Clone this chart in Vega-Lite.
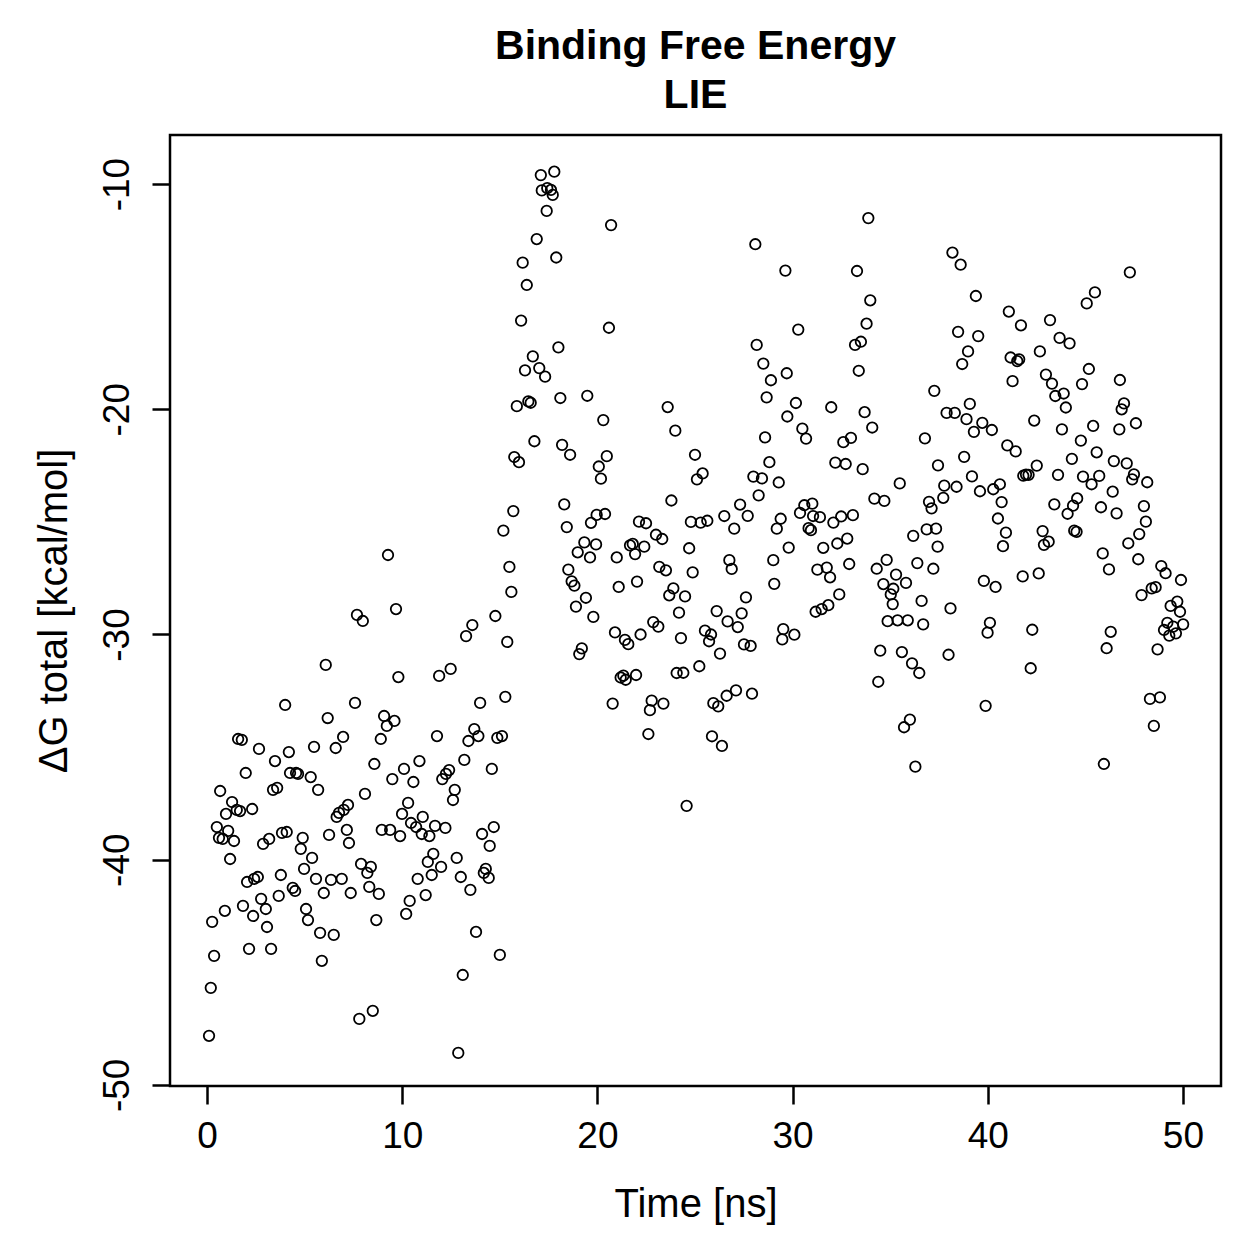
{
  "$schema": "https://vega.github.io/schema/vega-lite/v6.json",
  "width": 1051,
  "height": 951,
  "autosize": {"type": "none"},
  "padding": {"left": 170, "top": 135, "right": 38, "bottom": 173},
  "background": "white",
  "config": {
    "font": "Liberation Sans",
    "view": {"stroke": "black", "strokeWidth": 2.5},
    "axis": {"grid": false, "domain": false, "tickColor": "black", "tickWidth": 2.5, "tickSize": 18, "labelColor": "black", "titleColor": "black", "labelFont": "Liberation Sans", "titleFont": "Liberation Sans", "labelFontWeight": "normal", "titleFontWeight": "normal"}
  },
  "title": {
    "text": ["Binding Free Energy", "LIE"],
    "fontSize": 41,
    "fontWeight": "bold",
    "font": "Liberation Sans",
    "color": "black",
    "anchor": "middle",
    "lineHeight": 49,
    "offset": 18
  },
  "data": {
    "values": [
      {"t":0.10,"g":-47.82},{"t":0.19,"g":-45.69},{"t":0.26,"g":-42.76},{"t":0.36,"g":-44.27},{"t":0.50,"g":-38.55},
      {"t":0.61,"g":-39.03},{"t":0.67,"g":-36.95},{"t":0.80,"g":-39.08},{"t":0.91,"g":-42.27},{"t":0.97,"g":-37.97},
      {"t":1.08,"g":-38.72},{"t":1.18,"g":-39.97},{"t":1.28,"g":-37.44},{"t":1.38,"g":-39.17},{"t":1.52,"g":-37.79},
      {"t":1.59,"g":-34.64},{"t":1.69,"g":-37.84},{"t":1.78,"g":-34.68},{"t":1.84,"g":-42.05},{"t":1.98,"g":-36.15},
      {"t":2.05,"g":-40.99},{"t":2.15,"g":-43.96},{"t":2.31,"g":-37.75},{"t":2.36,"g":-42.50},{"t":2.41,"g":-40.85},
      {"t":2.60,"g":-40.77},{"t":2.66,"g":-35.08},{"t":2.77,"g":-41.74},{"t":2.87,"g":-39.30},{"t":3.01,"g":-42.19},
      {"t":3.07,"g":-42.99},{"t":3.18,"g":-39.08},{"t":3.28,"g":-43.96},{"t":3.38,"g":-36.90},{"t":3.48,"g":-35.62},
      {"t":3.59,"g":-36.81},{"t":3.67,"g":-41.61},{"t":3.78,"g":-40.68},{"t":3.84,"g":-38.81},{"t":4.00,"g":-33.13},
      {"t":4.08,"g":-38.77},{"t":4.19,"g":-35.22},{"t":4.25,"g":-36.15},{"t":4.39,"g":-41.25},{"t":4.51,"g":-41.39},
      {"t":4.56,"g":-36.15},{"t":4.66,"g":-36.19},{"t":4.80,"g":-39.52},{"t":4.90,"g":-39.03},{"t":4.97,"g":-40.41},
      {"t":5.07,"g":-42.19},{"t":5.17,"g":-42.68},{"t":5.31,"g":-36.33},{"t":5.38,"g":-39.92},{"t":5.48,"g":-34.99},
      {"t":5.58,"g":-40.85},{"t":5.69,"g":-36.90},{"t":5.79,"g":-43.25},{"t":5.88,"g":-44.49},{"t":5.98,"g":-41.48},
      {"t":6.08,"g":-31.35},{"t":6.18,"g":-33.71},{"t":6.25,"g":-38.90},{"t":6.35,"g":-40.90},{"t":6.49,"g":-43.34},
      {"t":6.59,"g":-35.04},{"t":6.64,"g":-38.10},{"t":6.76,"g":-37.92},{"t":6.90,"g":-40.85},{"t":6.97,"g":-34.55},
      {"t":7.00,"g":-37.79},{"t":7.16,"g":-38.68},{"t":7.22,"g":-37.57},{"t":7.27,"g":-39.26},{"t":7.36,"g":-41.48},
      {"t":7.58,"g":-33.04},{"t":7.68,"g":-29.13},{"t":7.80,"g":-47.07},{"t":7.89,"g":-40.19},{"t":7.98,"g":-29.40},
      {"t":8.09,"g":-37.08},{"t":8.21,"g":-40.59},{"t":8.31,"g":-41.21},{"t":8.39,"g":-40.32},{"t":8.49,"g":-46.71},
      {"t":8.57,"g":-35.75},{"t":8.67,"g":-42.68},{"t":8.80,"g":-41.52},{"t":8.90,"g":-34.64},{"t":8.95,"g":-38.68},
      {"t":9.07,"g":-33.62},{"t":9.21,"g":-34.06},{"t":9.27,"g":-26.47},{"t":9.38,"g":-38.68},{"t":9.49,"g":-36.42},
      {"t":9.60,"g":-33.84},{"t":9.68,"g":-28.87},{"t":9.80,"g":-31.89},{"t":9.89,"g":-38.95},{"t":9.99,"g":-37.97},
      {"t":10.09,"g":-35.97},{"t":10.20,"g":-42.41},{"t":10.30,"g":-37.48},{"t":10.38,"g":-41.83},{"t":10.45,"g":-38.37},
      {"t":10.57,"g":-36.55},{"t":10.71,"g":-38.55},{"t":10.79,"g":-40.85},{"t":10.88,"g":-35.62},{"t":11.00,"g":-38.86},
      {"t":11.05,"g":-38.10},{"t":11.20,"g":-41.57},{"t":11.31,"g":-40.10},{"t":11.39,"g":-38.95},{"t":11.51,"g":-40.68},
      {"t":11.59,"g":-39.74},{"t":11.68,"g":-38.50},{"t":11.78,"g":-34.51},{"t":11.89,"g":-31.84},{"t":11.99,"g":-40.32},
      {"t":12.05,"g":-36.42},{"t":12.21,"g":-38.59},{"t":12.24,"g":-36.19},{"t":12.40,"g":-36.02},{"t":12.48,"g":-31.53},
      {"t":12.60,"g":-37.35},{"t":12.69,"g":-36.90},{"t":12.79,"g":-39.92},{"t":12.87,"g":-48.58},{"t":13.00,"g":-40.77},
      {"t":13.10,"g":-45.12},{"t":13.18,"g":-35.57},{"t":13.27,"g":-30.07},{"t":13.39,"g":-34.73},{"t":13.49,"g":-41.34},
      {"t":13.59,"g":-29.58},{"t":13.69,"g":-34.20},{"t":13.78,"g":-43.21},{"t":13.90,"g":-34.51},{"t":13.99,"g":-33.04},
      {"t":14.09,"g":-38.86},{"t":14.18,"g":-40.59},{"t":14.28,"g":-40.41},{"t":14.43,"g":-40.81},{"t":14.48,"g":-39.39},
      {"t":14.59,"g":-35.97},{"t":14.69,"g":-38.55},{"t":14.77,"g":-29.18},{"t":14.87,"g":-34.59},{"t":15.00,"g":-44.23},
      {"t":15.11,"g":-34.51},{"t":15.18,"g":-25.39},{"t":15.28,"g":-32.77},{"t":15.38,"g":-30.33},{"t":15.49,"g":-27.00},
      {"t":15.59,"g":-28.11},{"t":15.69,"g":-24.52},{"t":15.74,"g":-22.12},{"t":15.87,"g":-19.86},{"t":15.98,"g":-22.35},
      {"t":16.09,"g":-16.06},{"t":16.17,"g":-13.49},{"t":16.29,"g":-18.27},{"t":16.38,"g":-14.48},{"t":16.46,"g":-19.65},
      {"t":16.58,"g":-19.71},{"t":16.69,"g":-17.65},{"t":16.77,"g":-21.42},{"t":16.89,"g":-12.44},{"t":17.02,"g":-18.17},
      {"t":17.10,"g":-9.60},{"t":17.15,"g":-10.28},{"t":17.32,"g":-18.55},{"t":17.40,"g":-11.19},{"t":17.43,"g":-10.18},
      {"t":17.62,"g":-10.26},{"t":17.71,"g":-10.48},{"t":17.79,"g":-9.45},{"t":17.89,"g":-13.26},{"t":18.00,"g":-17.25},
      {"t":18.10,"g":-19.50},{"t":18.19,"g":-21.58},{"t":18.30,"g":-24.22},{"t":18.43,"g":-25.23},{"t":18.51,"g":-27.12},
      {"t":18.60,"g":-22.02},{"t":18.68,"g":-27.64},{"t":18.82,"g":-27.83},{"t":18.90,"g":-28.76},{"t":18.99,"g":-26.35},
      {"t":19.07,"g":-30.87},{"t":19.20,"g":-30.62},{"t":19.33,"g":-25.91},{"t":19.41,"g":-28.37},{"t":19.48,"g":-19.40},
      {"t":19.62,"g":-26.58},{"t":19.67,"g":-25.04},{"t":19.79,"g":-29.22},{"t":19.93,"g":-26.00},{"t":19.96,"g":-24.69},
      {"t":20.07,"g":-22.54},{"t":20.18,"g":-23.08},{"t":20.30,"g":-20.48},{"t":20.39,"g":-24.65},{"t":20.48,"g":-22.08},
      {"t":20.59,"g":-16.38},{"t":20.70,"g":-11.82},{"t":20.78,"g":-33.07},{"t":20.90,"g":-29.91},{"t":20.99,"g":-26.58},
      {"t":21.09,"g":-27.89},{"t":21.19,"g":-31.91},{"t":21.33,"g":-31.83},{"t":21.41,"g":-30.24},{"t":21.45,"g":-32.01},
      {"t":21.58,"g":-30.43},{"t":21.67,"g":-26.04},{"t":21.81,"g":-25.98},{"t":21.93,"g":-26.43},{"t":21.98,"g":-31.80},
      {"t":22.03,"g":-27.65},{"t":22.13,"g":-24.99},{"t":22.21,"g":-30.00},{"t":22.40,"g":-26.10},{"t":22.49,"g":-25.06},
      {"t":22.61,"g":-34.42},{"t":22.69,"g":-33.36},{"t":22.78,"g":-32.94},{"t":22.86,"g":-29.45},{"t":23.00,"g":-25.57},
      {"t":23.12,"g":-29.65},{"t":23.17,"g":-27.00},{"t":23.32,"g":-25.76},{"t":23.38,"g":-33.07},{"t":23.51,"g":-27.15},
      {"t":23.60,"g":-19.90},{"t":23.68,"g":-28.26},{"t":23.79,"g":-24.05},{"t":23.89,"g":-27.95},{"t":23.99,"g":-20.95},
      {"t":24.06,"g":-31.71},{"t":24.18,"g":-29.03},{"t":24.28,"g":-30.16},{"t":24.40,"g":-31.70},{"t":24.49,"g":-28.31},
      {"t":24.57,"g":-37.61},{"t":24.70,"g":-26.17},{"t":24.79,"g":-25.00},{"t":24.88,"g":-27.24},{"t":25.00,"g":-22.02},
      {"t":25.10,"g":-23.11},{"t":25.22,"g":-31.41},{"t":25.29,"g":-25.03},{"t":25.39,"g":-22.85},{"t":25.51,"g":-29.83},
      {"t":25.63,"g":-24.95},{"t":25.72,"g":-30.30},{"t":25.82,"g":-30.00},{"t":25.87,"g":-34.52},{"t":25.94,"g":-33.05},
      {"t":26.11,"g":-28.96},{"t":26.19,"g":-33.19},{"t":26.28,"g":-30.85},{"t":26.38,"g":-34.95},{"t":26.50,"g":-24.74},
      {"t":26.62,"g":-32.72},{"t":26.67,"g":-29.42},{"t":26.76,"g":-26.70},{"t":26.88,"g":-27.09},{"t":27.01,"g":-25.30},
      {"t":27.10,"g":-32.48},{"t":27.19,"g":-29.67},{"t":27.31,"g":-24.23},{"t":27.39,"g":-29.06},{"t":27.51,"g":-30.44},
      {"t":27.61,"g":-28.35},{"t":27.70,"g":-24.73},{"t":27.85,"g":-30.51},{"t":27.92,"g":-32.63},{"t":27.99,"g":-22.99},
      {"t":28.09,"g":-12.67},{"t":28.16,"g":-17.14},{"t":28.26,"g":-23.82},{"t":28.43,"g":-23.07},{"t":28.50,"g":-17.97},
      {"t":28.59,"g":-21.25},{"t":28.67,"g":-19.47},{"t":28.81,"g":-22.35},{"t":28.89,"g":-18.71},{"t":29.01,"g":-26.70},
      {"t":29.06,"g":-27.75},{"t":29.19,"g":-25.30},{"t":29.29,"g":-23.25},{"t":29.39,"g":-24.86},{"t":29.47,"g":-30.22},
      {"t":29.52,"g":-29.76},{"t":29.63,"g":-13.84},{"t":29.70,"g":-18.40},{"t":29.73,"g":-20.32},{"t":29.80,"g":-26.14},
      {"t":30.09,"g":-30.01},{"t":30.17,"g":-19.72},{"t":30.29,"g":-16.46},{"t":30.38,"g":-24.60},{"t":30.50,"g":-20.86},
      {"t":30.60,"g":-24.26},{"t":30.69,"g":-21.30},{"t":30.82,"g":-25.28},{"t":30.94,"g":-25.37},{"t":31.01,"g":-24.19},
      {"t":31.05,"g":-24.74},{"t":31.18,"g":-28.99},{"t":31.27,"g":-27.12},{"t":31.40,"g":-24.79},{"t":31.49,"g":-28.87},
      {"t":31.57,"g":-26.15},{"t":31.75,"g":-27.03},{"t":31.83,"g":-28.70},{"t":31.92,"g":-27.46},{"t":31.98,"g":-19.91},
      {"t":32.09,"g":-25.03},{"t":32.19,"g":-22.37},{"t":32.29,"g":-25.96},{"t":32.39,"g":-28.22},{"t":32.49,"g":-24.76},
      {"t":32.60,"g":-21.46},{"t":32.72,"g":-22.43},{"t":32.80,"g":-25.74},{"t":32.90,"g":-26.87},{"t":32.99,"g":-21.27},
      {"t":33.09,"g":-24.70},{"t":33.20,"g":-17.14},{"t":33.30,"g":-13.86},{"t":33.39,"g":-18.29},{"t":33.50,"g":-17.00},
      {"t":33.59,"g":-22.66},{"t":33.69,"g":-20.13},{"t":33.79,"g":-16.20},{"t":33.88,"g":-11.51},{"t":33.98,"g":-15.16},
      {"t":34.08,"g":-20.81},{"t":34.19,"g":-23.97},{"t":34.31,"g":-27.08},{"t":34.39,"g":-32.10},{"t":34.49,"g":-30.72},
      {"t":34.65,"g":-27.76},{"t":34.70,"g":-24.07},{"t":34.82,"g":-26.69},{"t":34.87,"g":-29.41},{"t":35.03,"g":-28.22},
      {"t":35.13,"g":-28.65},{"t":35.16,"g":-27.97},{"t":35.30,"g":-27.34},{"t":35.38,"g":-29.37},{"t":35.49,"g":-23.29},
      {"t":35.60,"g":-30.78},{"t":35.71,"g":-34.12},{"t":35.81,"g":-27.71},{"t":35.90,"g":-29.37},{"t":36.01,"g":-33.78},
      {"t":36.12,"g":-31.28},{"t":36.18,"g":-25.62},{"t":36.29,"g":-35.87},{"t":36.39,"g":-26.83},{"t":36.49,"g":-31.71},
      {"t":36.61,"g":-28.51},{"t":36.69,"g":-29.55},{"t":36.78,"g":-21.29},{"t":36.87,"g":-25.33},{"t":36.99,"g":-24.11},
      {"t":37.12,"g":-24.40},{"t":37.21,"g":-27.08},{"t":37.26,"g":-19.18},{"t":37.35,"g":-25.30},{"t":37.43,"g":-26.10},
      {"t":37.45,"g":-22.49},{"t":37.72,"g":-23.93},{"t":37.77,"g":-23.39},{"t":37.89,"g":-20.16},{"t":37.99,"g":-30.90},
      {"t":38.09,"g":-28.84},{"t":38.19,"g":-13.04},{"t":38.31,"g":-20.16},{"t":38.40,"g":-23.44},{"t":38.48,"g":-16.56},
      {"t":38.61,"g":-13.58},{"t":38.69,"g":-17.99},{"t":38.79,"g":-22.11},{"t":38.91,"g":-20.44},{"t":38.99,"g":-17.43},
      {"t":39.08,"g":-19.76},{"t":39.19,"g":-22.98},{"t":39.29,"g":-21.00},{"t":39.39,"g":-14.97},{"t":39.51,"g":-16.75},
      {"t":39.60,"g":-23.64},{"t":39.72,"g":-20.60},{"t":39.80,"g":-27.62},{"t":39.89,"g":-33.17},{"t":39.99,"g":-29.92},
      {"t":40.11,"g":-29.48},{"t":40.21,"g":-20.92},{"t":40.28,"g":-23.55},{"t":40.40,"g":-27.89},{"t":40.52,"g":-24.85},
      {"t":40.62,"g":-23.33},{"t":40.71,"g":-24.12},{"t":40.78,"g":-26.08},{"t":40.93,"g":-25.48},{"t":41.00,"g":-21.60},
      {"t":41.08,"g":-15.66},{"t":41.17,"g":-17.70},{"t":41.27,"g":-18.75},{"t":41.43,"g":-21.87},{"t":41.51,"g":-17.86},
      {"t":41.61,"g":-17.78},{"t":41.70,"g":-16.27},{"t":41.79,"g":-27.42},{"t":41.82,"g":-22.95},{"t":41.96,"g":-22.90},
      {"t":42.09,"g":-22.91},{"t":42.20,"g":-31.50},{"t":42.28,"g":-29.79},{"t":42.38,"g":-20.50},{"t":42.51,"g":-22.50},
      {"t":42.61,"g":-27.29},{"t":42.67,"g":-17.43},{"t":42.81,"g":-25.41},{"t":42.88,"g":-26.02},{"t":42.98,"g":-18.46},
      {"t":43.12,"g":-25.88},{"t":43.19,"g":-16.04},{"t":43.29,"g":-18.86},{"t":43.41,"g":-24.22},{"t":43.46,"g":-19.41},
      {"t":43.60,"g":-22.91},{"t":43.68,"g":-16.83},{"t":43.80,"g":-20.89},{"t":43.89,"g":-19.30},{"t":44.00,"g":-19.92},
      {"t":44.09,"g":-24.64},{"t":44.19,"g":-17.07},{"t":44.31,"g":-22.20},{"t":44.37,"g":-24.28},{"t":44.43,"g":-25.39},
      {"t":44.55,"g":-25.44},{"t":44.58,"g":-23.96},{"t":44.77,"g":-21.39},{"t":44.83,"g":-18.88},{"t":44.88,"g":-22.99},
      {"t":45.07,"g":-15.30},{"t":45.18,"g":-18.21},{"t":45.32,"g":-23.33},{"t":45.40,"g":-20.74},{"t":45.49,"g":-14.81},
      {"t":45.58,"g":-21.91},{"t":45.71,"g":-22.96},{"t":45.80,"g":-24.35},{"t":45.89,"g":-26.40},{"t":45.95,"g":-35.75},
      {"t":46.09,"g":-30.61},{"t":46.21,"g":-27.11},{"t":46.30,"g":-29.88},{"t":46.40,"g":-23.66},{"t":46.46,"g":-22.30},
      {"t":46.60,"g":-24.62},{"t":46.74,"g":-20.89},{"t":46.77,"g":-18.70},{"t":46.86,"g":-20.00},{"t":46.98,"g":-19.74},
      {"t":47.12,"g":-22.40},{"t":47.20,"g":-25.95},{"t":47.28,"g":-13.92},{"t":47.40,"g":-23.11},{"t":47.49,"g":-22.89},
      {"t":47.59,"g":-20.62},{"t":47.71,"g":-26.66},{"t":47.76,"g":-25.54},{"t":47.88,"g":-28.25},{"t":48.00,"g":-24.30},
      {"t":48.10,"g":-24.99},{"t":48.17,"g":-23.24},{"t":48.31,"g":-32.86},{"t":48.40,"g":-27.95},{"t":48.51,"g":-34.06},
      {"t":48.60,"g":-27.90},{"t":48.70,"g":-30.66},{"t":48.82,"g":-32.79},{"t":48.89,"g":-26.96},{"t":49.03,"g":-29.80},
      {"t":49.11,"g":-27.28},{"t":49.20,"g":-29.48},{"t":49.30,"g":-30.05},{"t":49.37,"g":-28.73},{"t":49.50,"g":-29.65},
      {"t":49.64,"g":-29.95},{"t":49.71,"g":-28.54},{"t":49.85,"g":-28.99},{"t":49.90,"g":-27.58},{"t":50.01,"g":-29.55}
    ]
  },
  "mark": {"type": "point", "shape": "circle", "filled": false, "stroke": "black", "strokeWidth": 1.8, "size": 110, "opacity": 1},
  "encoding": {
    "x": {
      "field": "t", "type": "quantitative",
      "scale": {"domain": [-1.9, 51.95], "nice": false, "zero": false},
      "axis": {"values": [0, 10, 20, 30, 40, 50], "labelFontSize": 37, "labelPadding": 14, "title": "Time [ns]", "titleFontSize": 40, "titlePadding": 30, "labelExpr": "toString(datum.value)"}
    },
    "y": {
      "field": "g", "type": "quantitative",
      "scale": {"domain": [-50.05, -7.82], "nice": false, "zero": false},
      "axis": {"values": [-50, -40, -30, -20, -10], "labelFontSize": 37, "labelAngle": -90, "labelAlign": "center", "labelBaseline": "bottom", "labelPadding": 16, "title": "ΔG total [kcal/mol]", "titleFontSize": 40, "titlePadding": 24, "labelExpr": "toString(datum.value)"}
    }
  }
}
